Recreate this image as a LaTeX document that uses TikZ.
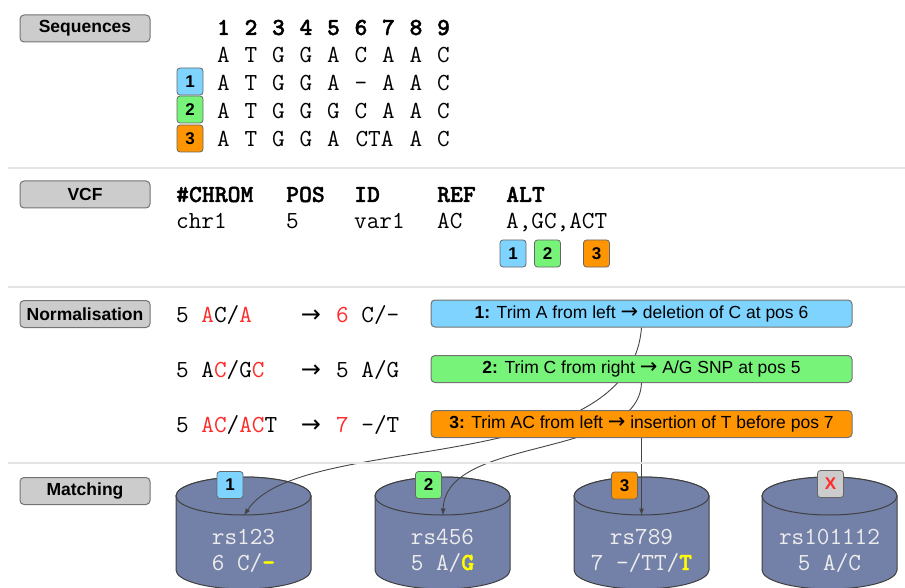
\documentclass[tikz,border=0pt]{standalone}
\usepackage{fontspec}
\setmainfont{Liberation Sans}
\newfontfamily\arrowfont{DejaVu Sans}
\newfontfamily\monobf{lmmonolt10-bold.otf}[FakeBold=1.5]
\usetikzlibrary{arrows.meta}
\pgfdeclarelayer{back}
\pgfdeclarelayer{conn}
\pgfsetlayers{back,conn,main}
\definecolor{lblfill}{HTML}{CCCCCC}
\definecolor{bblue}{HTML}{7FD4FF}
\definecolor{bgreen}{HTML}{77F37A}
\definecolor{borange}{HTML}{FF9500}
\definecolor{cylblue}{HTML}{7381A8}
\definecolor{txtred}{HTML}{FF2A2A}
\definecolor{hlyellow}{HTML}{FFFF00}
\definecolor{sepgray}{HTML}{E4E4E4}
\definecolor{linegray}{HTML}{444444}
\newcommand\mfont{\ttfamily\fontsize{24.5}{29}\selectfont}
\newcommand\mbfont{\monobf\fontsize{24.5}{29}\selectfont}
\newcommand\sfont{\fontsize{17.5}{21}\selectfont}
\newcommand\rarr{{\arrowfont\fontsize{21}{24}\selectfont →}}
\newcommand\hl[1]{\textcolor{hlyellow}{\monobf #1}}
\tikzset{
  lbl/.style={draw=black!55, fill=lblfill, rounded corners=4pt, line width=1pt,
    minimum width=130pt, minimum height=27pt, inner sep=0pt, font=\sfont\bfseries},
  badge/.style={draw=black!60, rounded corners=3pt, minimum width=26pt,
    minimum height=27pt, inner sep=0pt, line width=0.8pt,
    font=\fontsize{17}{20}\selectfont\bfseries},
  mono/.style={inner sep=0pt, font=\mfont, anchor=base},
  monob/.style={mono, font=\mbfont},
  arr/.style={inner sep=0pt, anchor=base, font=\arrowfont\fontsize{24}{28}\selectfont},
  nbox/.style={draw=black!55, rounded corners=4pt, minimum width=421pt,
    minimum height=27pt, inner sep=0pt, font=\sfont, line width=1pt},
  conn/.style={draw=linegray, line width=0.9pt, -{Latex[length=7pt,width=5pt]}},
  sep/.style={draw=sepgray, line width=2pt},
  cyl/.style={fill=cylblue, draw=black!75, line width=1pt},
  cyltext/.style={mono, text=white!93!black}
}
\begin{document}
\begin{tikzpicture}[x=1pt,y=-1pt]
\useasboundingbox (0,0) rectangle (905,588);
% separators
\draw[sep] (8,168) -- (905,168);
\draw[sep] (8,287) -- (905,287);
\draw[sep] (8,463) -- (905,463);
% section labels
\node[lbl] (lseq) at (85,28.5) {Sequences};
\node[lbl] (lvcf) at (85,194.5) {VCF};
\node[lbl] (lnorm) at (85,314) {Normalisation};
\node[lbl] (lmatch) at (85,491) {Matching};
% sequences
\foreach \i in {1,...,9}
  \node[monob] (h\i) at ({223.5+27.5*(\i-1)},35) {\i};
\foreach \ch [count=\i] in {A,T,G,G,A,C,A,A,C}
  \node[mono] (ra\i) at ({223.5+27.5*(\i-1)},63) {\ch};
\foreach \ch [count=\i] in {A,T,G,G,A,-,A,A,C}
  \node[mono] (rb\i) at ({223.5+27.5*(\i-1)},91) {\ch};
\foreach \ch [count=\i] in {A,T,G,G,G,C,A,A,C}
  \node[mono] (rc\i) at ({223.5+27.5*(\i-1)},119) {\ch};
\foreach \ch [count=\i] in {A,T,G,G,A}
  \node[mono] (rd\i) at ({223.5+27.5*(\i-1)},147) {\ch};
\node[mono] (rd6) at (374.5,147) {CTA};
\node[mono] (rd8) at (416,147) {A};
\node[mono] (rd9) at (443.5,147) {C};
\node[badge, fill=bblue] (sb1) at (190,81.5) {1};
\node[badge, fill=bgreen] (sb2) at (190,109.5) {2};
\node[badge, fill=borange] (sb3) at (190,138.5) {3};
% VCF
\node[monob, anchor=base west] (vh1) at (176,202) {\#CHROM};
\node[monob, anchor=base west] (vh2) at (286,202) {POS};
\node[monob, anchor=base west] (vh3) at (354,202) {ID};
\node[monob, anchor=base west] (vh4) at (437,202) {REF};
\node[monob, anchor=base west] (vh5) at (506,202) {ALT};
\node[mono, anchor=base west] (vr1) at (176,229) {chr1};
\node[mono, anchor=base west] (vr2) at (286,229) {5};
\node[mono, anchor=base west] (vr3) at (354,229) {var1};
\node[mono, anchor=base west] (vr4) at (437,229) {AC};
\node[mono, anchor=base west] (vr5) at (506,229) {A,GC,ACT};
\node[badge, fill=bblue] (vb1) at (513,253.5) {1};
\node[badge, fill=bgreen] (vb2) at (547.5,253.5) {2};
\node[badge, fill=borange] (vb3) at (596.5,253.5) {3};
% normalisation
\node[mono, anchor=base west] (na1) at (176,322) {5 \textcolor{txtred}{A}C/\textcolor{txtred}{A}};
\node[arr] (nx1) at (311,322) {→};
\node[mono, anchor=base west] (nc1) at (336,322) {\textcolor{txtred}{6} C/-};
\node[mono, anchor=base west] (na2) at (176,377) {5 A\textcolor{txtred}{C}/G\textcolor{txtred}{C}};
\node[arr] (nx2) at (311,377) {→};
\node[mono, anchor=base west] (nc2) at (336,377) {5 A/G};
\node[mono, anchor=base west] (na3) at (176,432) {5 \textcolor{txtred}{AC}/\textcolor{txtred}{AC}T};
\node[arr] (nx3) at (311,432) {→};
\node[mono, anchor=base west] (nc3) at (336,432) {\textcolor{txtred}{7} -/T};
\node[nbox, fill=bblue] (b1) at (641.5,313.5) {\textbf{1:} Trim A from left \rarr{} deletion of C at pos 6};
\node[nbox, fill=bgreen] (b2) at (641.5,369) {\textbf{2:} Trim C from right \rarr{} A/G SNP at pos 5};
\node[nbox, fill=borange] (b3) at (641.5,424) {\textbf{3:} Trim AC from left \rarr{} insertion of T before pos 7};
% cylinders
\begin{pgfonlayer}{back}
\foreach \cx in {243.5,442.5,641.5,829.5}{
  \filldraw[cyl] ({\cx-67.5},496) -- ({\cx-67.5},570)
    arc[start angle=180, end angle=0, x radius=67.5, y radius=19]
    -- ({\cx+67.5},496)
    arc[start angle=0, end angle=-180, x radius=67.5, y radius=19] -- cycle;
  \draw[cyl] (\cx,496) ellipse[x radius=67.5, y radius=19];
}
\end{pgfonlayer}
\coordinate (t1) at (244,515.5);
\coordinate (t2) at (443,515.5);
\coordinate (t3) at (641.5,515.5);
\node[badge, fill=bblue] (cb1) at (230,485) {1};
\node[badge, fill=bgreen] (cb2) at (428.5,485) {2};
\node[badge, fill=borange] (cb3) at (624.5,485.5) {3};
\node[badge, fill=lblfill, text=txtred] (cb4) at (830.5,484) {X};
\node[cyltext] (n1) at (243.5,544) {rs123};
\node[cyltext] (a1) at (243.5,570) {6 C/\hl{-}};
\node[cyltext] (n2) at (442.5,544) {rs456};
\node[cyltext] (a2) at (442.5,570) {5 A/\hl{G}};
\node[cyltext] (n3) at (641.5,544) {rs789};
\node[cyltext] (a3) at (641.5,570) {7 -/TT/\hl{T}};
\node[cyltext] (n4) at (829.5,544) {rs101112};
\node[cyltext] (a4) at (829.5,570) {5 A/C};
% connectors
\begin{pgfonlayer}{conn}
\draw[conn] (b1.south) .. controls (630,480) and (300,430) .. (t1);
\draw[conn] (b2.south) .. controls (638,460) and (445,435) .. (t2);
\draw[conn] (b3.south) -- (t3);
\end{pgfonlayer}
\end{tikzpicture}
\end{document}
